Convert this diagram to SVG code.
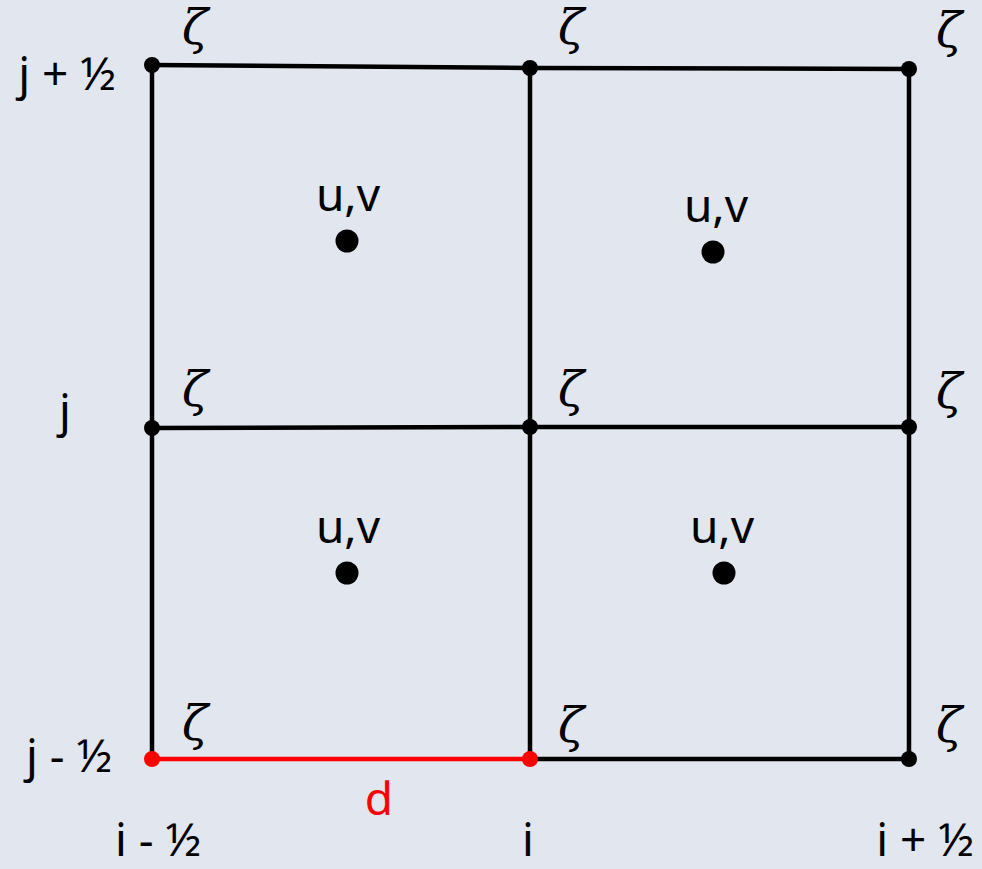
<svg xmlns="http://www.w3.org/2000/svg" width="982" height="869" viewBox="0 0 982 869">
<style>
.ln{stroke:#000;stroke-width:4.5;fill:none;stroke-linecap:round}
.red{stroke:#ff0000}
.lbl{font-family:"Noto Sans","Lato",sans-serif;font-size:46px;fill:#000}
.xi{font-family:"DejaVu Serif","Liberation Serif",serif;font-style:italic;font-size:48px;fill:#000}
.dot{fill:#000}
</style>
<rect x="0" y="0" width="982" height="869" fill="#e1e6ef"/>
<g id="connectors">
<polyline class="ln" points="152,65 530,68 909,69"/>
<polyline class="ln" points="152,428 530,427 909,427"/>
<line class="ln" x1="530" y1="759" x2="909" y2="759"/>
<line class="ln" x1="152" y1="65" x2="152" y2="759"/>
<line class="ln" x1="530" y1="68" x2="530" y2="759"/>
<line class="ln" x1="909" y1="69" x2="909" y2="759"/>
<line class="ln red" x1="152" y1="759" x2="530" y2="759"/>
</g>
<g id="n-tl"><circle class="dot" cx="152" cy="65" r="8"/><text class="xi" x="195" y="44" text-anchor="middle">ζ</text></g>
<g id="n-tm"><circle class="dot" cx="530" cy="68" r="8"/><text class="xi" x="571" y="44" text-anchor="middle">ζ</text></g>
<g id="n-tr"><circle class="dot" cx="909" cy="69" r="8"/><text class="xi" x="949" y="47" text-anchor="middle">ζ</text></g>
<g id="n-ml"><circle class="dot" cx="152" cy="428" r="8"/><text class="xi" x="195" y="406" text-anchor="middle">ζ</text></g>
<g id="n-mm"><circle class="dot" cx="530" cy="427" r="8"/><text class="xi" x="571" y="406" text-anchor="middle">ζ</text></g>
<g id="n-mr"><circle class="dot" cx="909" cy="427" r="8"/><text class="xi" x="949" y="408" text-anchor="middle">ζ</text></g>
<g id="n-bl"><circle cx="152" cy="759" r="8" fill="#ff0000"/><text class="xi" x="195" y="740" text-anchor="middle">ζ</text></g>
<g id="n-bm"><circle cx="530" cy="759" r="8" fill="#ff0000"/><text class="xi" x="571" y="742" text-anchor="middle">ζ</text></g>
<g id="n-br"><circle class="dot" cx="909" cy="759" r="8"/><text class="xi" x="949" y="742" text-anchor="middle">ζ</text></g>
<g id="c-tl"><circle class="dot" cx="347" cy="241" r="11.5"/><text class="lbl" x="348" y="211" text-anchor="middle">u,v</text></g>
<g id="c-tr"><circle class="dot" cx="713" cy="252" r="11.5"/><text class="lbl" x="716" y="222" text-anchor="middle">u,v</text></g>
<g id="c-bl"><circle class="dot" cx="347" cy="573" r="11.5"/><text class="lbl" x="348" y="543" text-anchor="middle">u,v</text></g>
<g id="c-br"><circle class="dot" cx="724" cy="573" r="11.5"/><text class="lbl" x="722" y="543" text-anchor="middle">u,v</text></g>
<g id="labels">
<text class="lbl" x="67" y="90" text-anchor="middle">j + ½</text>
<text class="lbl" x="65" y="427" text-anchor="middle">j</text>
<text class="lbl" x="69" y="772" text-anchor="middle">j - ½</text>
<text class="lbl" x="158" y="856" text-anchor="middle">i - ½</text>
<text class="lbl" x="528" y="856" text-anchor="middle">i</text>
<text class="lbl" x="925" y="856" text-anchor="middle">i + ½</text>
<text class="lbl" x="379" y="815" text-anchor="middle" style="fill:#ff0000">d</text>
</g>
</svg>
